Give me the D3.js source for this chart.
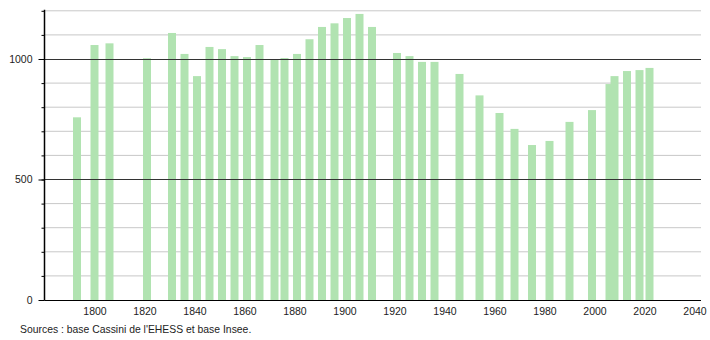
<!DOCTYPE html>
<html>
<head>
<meta charset="utf-8">
<script src="https://cdn.jsdelivr.net/npm/d3@7"></script>
<style>
  body { margin: 0; background: #fff; }
  svg { display: block; font-family: "Liberation Sans", Arial, sans-serif; }
</style>
</head>
<body>
<script>
// census years and population
var years = [1793, 1800, 1806, 1821, 1831, 1836, 1841, 1846, 1851, 1856, 1861, 1866, 1872, 1876, 1881, 1886,
  1891, 1896, 1901, 1906, 1911, 1921, 1926, 1931, 1936, 1946, 1954, 1962, 1968, 1975, 1982, 1990, 1999,
  2006, 2008, 2013, 2018, 2022]
var population = [758, 1058, 1065, 1003, 1108, 1021, 929, 1050, 1041, 1012, 1008, 1058, 998, 1004, 1021, 1082,
  1133, 1148, 1170, 1187, 1133, 1025, 1012, 988, 988, 938, 849, 776, 710, 643, 660, 739, 788,
  896, 929, 950, 954, 963]
var xTicks = [1800, 1820, 1840, 1860, 1880, 1900, 1920, 1940, 1960, 1980, 2000, 2020, 2040]
var yTicks = [0, 500, 1000]
var yMinor = [0, 100, 200, 300, 400, 500, 600, 700, 800, 900, 1000, 1100, 1200]
var source = "Sources : base Cassini de l'EHESS et base Insee."

var width = 710
var height = 340
var plotLeft = 44.5, plotRight = 701, plotTop = 10.8, plotBottom = 300

var data = years.map((y, i) => ({ year: y, pop: population[i] }))

var svg = d3.select('body').append('svg').attr('width', width).attr('height', height)

var x = d3.scaleLinear().domain([1780, 2042.6]).range([plotLeft, plotRight])
var y = d3.scaleLinear().domain([0, 1200]).range([plotBottom, plotTop])

// light gridlines every 100
svg.append('g').selectAll('line').data(yMinor.filter(d => d % 500 != 0 || d == 1200)).enter().append('line')
  .attr('x1', plotLeft).attr('x2', plotRight)
  .attr('y1', d => y(d)).attr('y2', d => y(d))
  .attr('stroke', '#c8c8c8').attr('stroke-width', 1)

// bars
var bw = 8
svg.append('g').selectAll('rect').data(data).enter().append('rect')
  .attr('x', d => x(d.year) - bw / 2)
  .attr('width', bw)
  .attr('y', d => y(d.pop))
  .attr('height', d => y(0) - y(d.pop))
  .attr('fill', '#b1e3b1')

// dark gridlines at 500 and 1000
svg.append('g').selectAll('line').data([500, 1000]).enter().append('line')
  .attr('x1', plotLeft).attr('x2', plotRight)
  .attr('y1', d => Math.round(y(d)) + 0.5).attr('y2', d => Math.round(y(d)) + 0.5)
  .attr('stroke', '#333').attr('stroke-width', 1)

// y axis: minor ticks, then labelled ticks
var yMinorAxis = d3.axisLeft(y).tickValues(yMinor).tickSize(3).tickFormat('')
svg.append('g').attr('transform', `translate(${plotLeft},0)`).call(yMinorAxis)
  .call(g => g.select('.domain').remove())
  .selectAll('line').attr('stroke', '#000')

var yAxis = d3.axisLeft(y).tickValues(yTicks).tickSize(6).tickPadding(6).tickFormat(d3.format('d'))
svg.append('g').attr('transform', `translate(${plotLeft},0)`).call(yAxis)
  .call(g => g.select('.domain').remove())
  .call(g => g.selectAll('text').attr('font-size', 10.5).attr('fill', '#222').attr('font-family', null))
  .selectAll('line').attr('stroke', '#000')

svg.append('line').attr('x1', plotLeft).attr('x2', plotLeft).attr('y1', plotTop - 1).attr('y2', plotBottom)
  .attr('stroke', '#000').attr('stroke-width', 1.5)

// x axis
var xAxis = d3.axisBottom(x).tickValues(xTicks).tickSize(0).tickPadding(8).tickFormat(d3.format('d'))
svg.append('g').attr('transform', `translate(0,${plotBottom})`).call(xAxis)
  .call(g => g.select('.domain').remove())
  .call(g => g.selectAll('text').attr('font-size', 10.5).attr('fill', '#222').attr('font-family', null))

svg.append('line').attr('x1', plotLeft).attr('x2', plotRight).attr('y1', plotBottom + 0.5).attr('y2', plotBottom + 0.5)
  .attr('stroke', '#000').attr('stroke-width', 1.2)

svg.append('text').attr('x', 20).attr('y', 333).attr('font-size', 10.4).attr('fill', '#222').text(source)
</script>
</body>
</html>
